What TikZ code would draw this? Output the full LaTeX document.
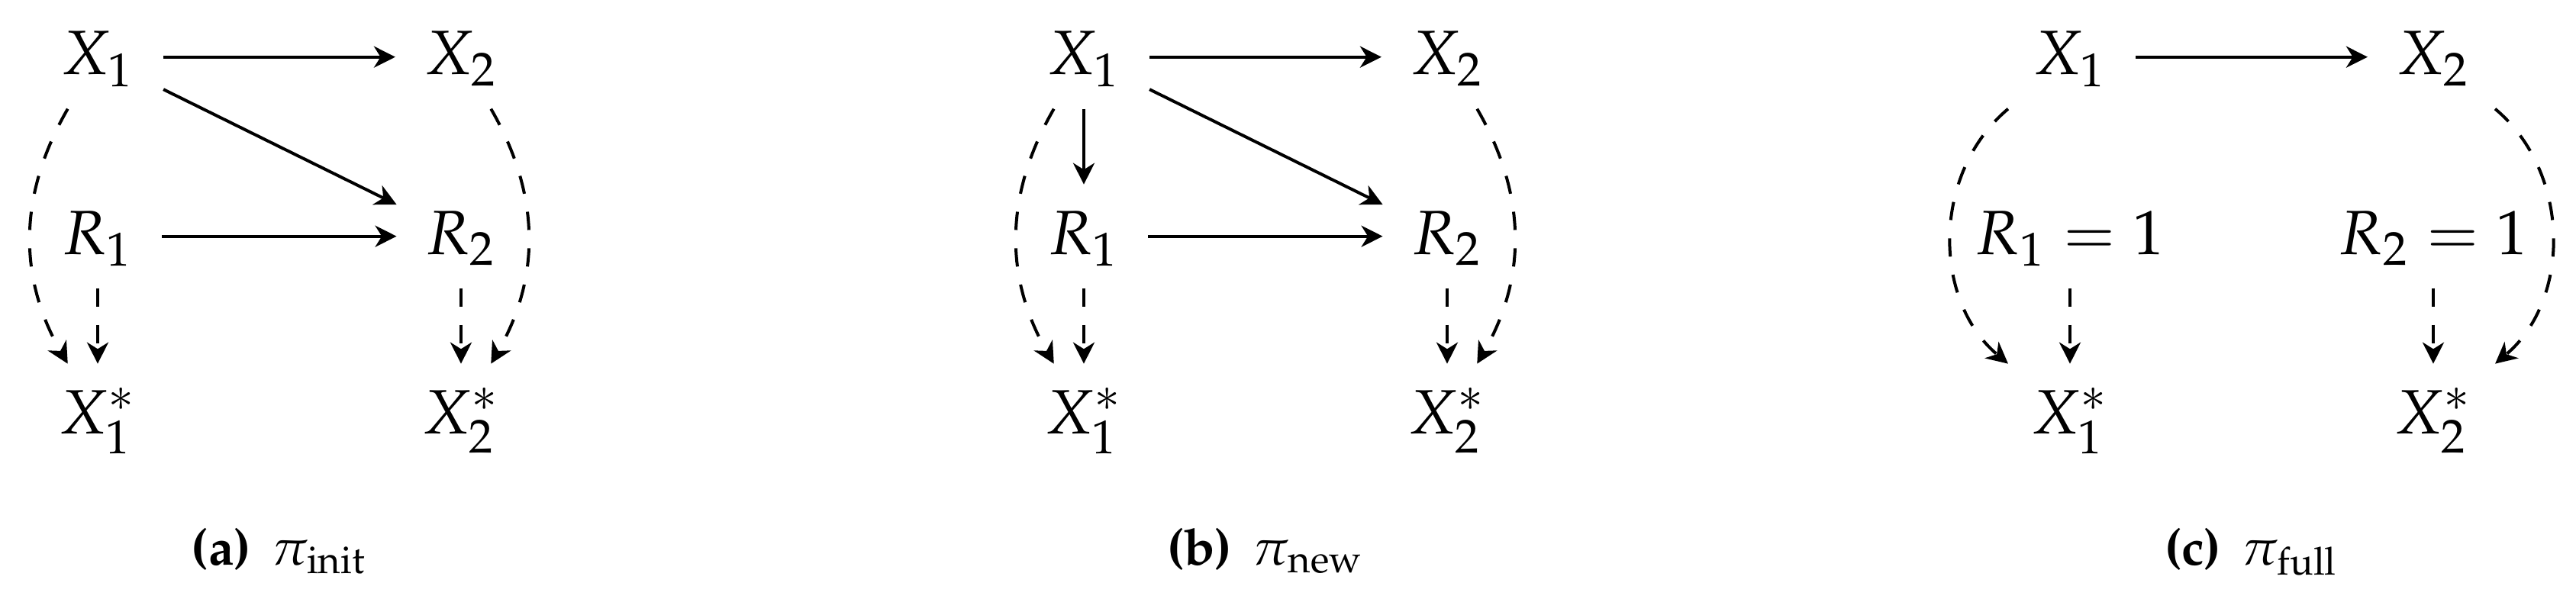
\documentclass[tikz,border=0pt]{standalone}
\usepackage[T1]{fontenc}
\usepackage{mathpazo}
\usetikzlibrary{positioning,calc,arrows.meta}

\begin{document}
\begin{tikzpicture}[
        var/.style={inner xsep=5.5pt, inner ysep=4pt, text height=9.5pt, text depth=2.5pt, font=\fontsize{12.3}{15}\selectfont},
        capt/.style={anchor=base, inner sep=0pt, font=\fontsize{10}{12}\selectfont},
        arr/.style={-{Stealth[length=4.2pt, width=4.2pt, inset=1.3pt]}, line width=0.6pt},
        dsh/.style={arr, dash pattern=on 3.6pt off 3.6pt},
        on grid, node distance=35.25pt and 71.4pt
    ]
        \useasboundingbox (0,0) rectangle (506.25pt,-117.75pt);

        % (a) initial policy
        \node[var](a-x1) at (19.2pt,-11.2pt){$X_1$};
            \node[var](a-x2)[right=of a-x1]{$X_2$};
            \node[var](a-r1)[below=of a-x1]{$R_1$};
            \node[var](a-r2)[below=of a-x2]{$R_2$};
                \node[var](a-s1)[below=of a-r1]{$X_1^*$};
                \node[var](a-s2)[below=of a-r2]{$X_2^*$};
        \node[capt] at ($(a-x1)!0.5!(a-x2)+(0,-99.8pt)$){\textbf{(a)}\hspace{0.4em}$\pi_{\mathrm{init}}$};

        \draw[arr] (a-x1) -- (a-x2);
        \draw[arr] (a-x1) -- (a-r2);
        \draw[arr] (a-r1) -- (a-r2);
        \draw[dsh] (a-r1) -- (a-s1);
        \draw[dsh] (a-r2) -- (a-s2);
        \draw[dsh] (a-x1) to[bend right=30] (a-s1);
        \draw[dsh] (a-x2) to[bend left=30] (a-s2);

        % (b) new policy
        \node[var](b-x1) at (213pt,-11.2pt){$X_1$};
            \node[var](b-x2)[right=of b-x1]{$X_2$};
            \node[var](b-r1)[below=of b-x1]{$R_1$};
            \node[var](b-r2)[below=of b-x2]{$R_2$};
                \node[var](b-s1)[below=of b-r1]{$X_1^*$};
                \node[var](b-s2)[below=of b-r2]{$X_2^*$};
        \node[capt] at ($(b-x1)!0.5!(b-x2)+(0,-99.8pt)$){\textbf{(b)}\hspace{0.4em}$\pi_{\mathrm{new}}$};

        \draw[arr] (b-x1) -- (b-x2);
        \draw[arr] (b-x1) -- (b-r1);
        \draw[arr] (b-x1) -- (b-r2);
        \draw[arr] (b-r1) -- (b-r2);
        \draw[dsh] (b-r1) -- (b-s1);
        \draw[dsh] (b-r2) -- (b-s2);
        \draw[dsh] (b-x1) to[bend right=30] (b-s1);
        \draw[dsh] (b-x2) to[bend left=30] (b-s2);

        % (c) full observation
        \node[var](c-x1) at (406.8pt,-11.2pt){$X_1$};
            \node[var](c-x2)[right=of c-x1]{$X_2$};
            \node[var](c-r1)[below=of c-x1]{$R_1 = 1$};
            \node[var](c-r2)[below=of c-x2]{$R_2 = 1$};
                \node[var](c-s1)[below=of c-r1]{$X_1^*$};
                \node[var](c-s2)[below=of c-r2]{$X_2^*$};
        \node[capt] at ($(c-x1)!0.5!(c-x2)+(0,-99.8pt)$){\textbf{(c)}\hspace{0.4em}$\pi_{\mathrm{full}}$};

        \draw[arr] (c-x1) -- (c-x2);
        \draw[dsh] (c-r1) -- (c-s1);
        \draw[dsh] (c-r2) -- (c-s2);
        \draw[dsh] (c-x1) to[bend right=50] (c-s1);
        \draw[dsh] (c-x2) to[bend left=50] (c-s2);
    \end{tikzpicture}
\end{document}
